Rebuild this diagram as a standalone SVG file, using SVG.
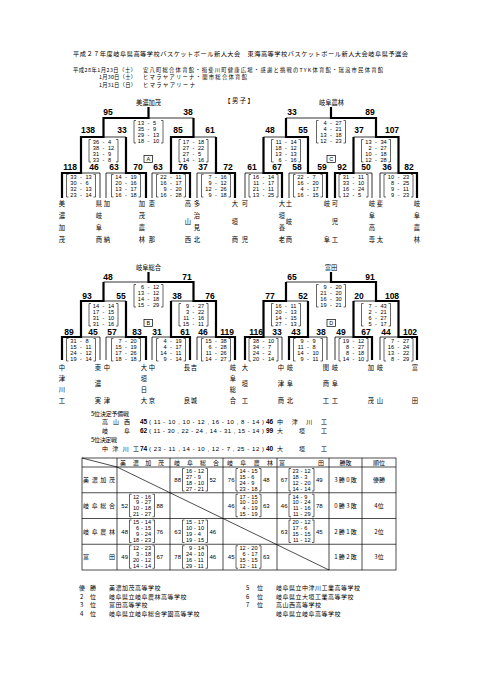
<svg xmlns="http://www.w3.org/2000/svg" width="481" height="680" viewBox="0 0 481 680">
<style>
text{font-family:"Noto Sans CJK JP","Liberation Sans",sans-serif;fill:#000}
.h{font-size:6.2px}
.d{font-size:5.3px}
.nm{font-size:6.3px;text-anchor:middle}
.sc{font-family:"Liberation Sans",Arial,sans-serif;font-weight:bold;font-size:8.5px;text-anchor:middle}
.q{font-family:"Liberation Sans",Arial,sans-serif;font-size:5.6px}
.e{text-anchor:end}
.m{text-anchor:middle}
.thin{fill:none;stroke:#000;stroke-width:0.8}
.thick{fill:none;stroke:#000;stroke-width:2.2}
.lb{fill:#fff;stroke:#000;stroke-width:0.7}
.lt{font-family:"Liberation Sans",Arial,sans-serif;font-size:5.5px;text-anchor:middle}
.tb{font-size:6px}
.tl{fill:none;stroke:#000;stroke-width:0.7}
.rk{font-size:6px;letter-spacing:0.5px}
.b6{font-family:"Liberation Sans",Arial,sans-serif;font-weight:bold;font-size:6.5px}
.p6{font-family:"Liberation Sans",Arial,sans-serif;font-size:6px}
.ts{font-family:"Liberation Sans",Arial,sans-serif;font-size:6px}
</style>
<defs>
<path id="gbr" fill="none" stroke="#000" stroke-width="0.6" d="M-12.5,0h-2v22.5h2M12.5,0h2v22.5h-2"/>
<path id="tbr" fill="none" stroke="#000" stroke-width="0.6" d="M-10.5,0h-2v22.5h2M10.5,0h2v22.5h-2"/>
</defs>
<rect width="481" height="680" fill="#fff"/>

<g id="header">
<text class="h" x="73" y="55.5" textLength="335">平成２７年度岐阜県高等学校バスケットボール新人大会　東海高等学校バスケットボール新人大会岐阜県予選会</text>
<text class="d" x="73" y="72" textLength="63">平成28年1月23日（土）</text>
<text class="d" x="143" y="72" textLength="240">安八町総合体育館・揖斐川町健康広場・感謝と挑戦のTYK体育館・瑞浪市民体育館</text>
<text class="d" x="99" y="79.3" textLength="37">1月30日（土）</text>
<text class="d" x="143" y="79.3" textLength="104">ヒマラヤアリーナ・関市総合体育館</text>
<text class="d" x="99" y="86.6" textLength="37">1月31日（日）</text>
<text class="d" x="143" y="86.6" textLength="52">ヒマラヤアリーナ</text>
<text class="nm" x="239" y="102.5">【 男 子 】</text>
</g>

<g id="connectors">
<path class="thin" d="M62,198V173H100V198M106,198V173H146V198M152,198V173H190V198M197,198V173H235V198M81,173V137H126V173M171,173V137H216V173M103.5,137V118H193.5V137M148.5,118V107"/>
<path class="thick" d="M62,198V173H81V137H103.5V118H148.5V107M146,198V173H126V137M190,198V173H171V137H193.5V118M235,198V173H216V137"/>
<path class="thin" d="M245,198V173H282V198M289,198V173H327V198M335,198V173H372V198M380,198V173H417V198M263.5,173V137H308V173M353.5,173V137H398.5V173M286,137V118H376V137M331,118V107"/>
<path class="thick" d="M282,198V173H263.5V137M327,198V173H308V137H286V118M335,198V173H353.5V137M417,198V173H398.5V137H376V118H331V107"/>
<path class="thin" d="M62,360V337H100V360M106,360V337H146V360M152,360V337H190V360M197,360V337H235V360M81,337V301H126V337M171,337V301H216V337M103.5,301V282H193.5V301M148.5,282V272"/>
<path class="thick" d="M62,360V337H81V301H103.5V282M146,360V337H126V301M190,360V337H171V301M235,360V337H216V301H193.5V282H148.5V272"/>
<path class="thin" d="M245,360V337H282V360M289,360V337H327V360M335,360V337H372V360M380,360V337H417V360M263.5,337V301H308V337M353.5,337V301H398.5V337M286,301V282H376V301M331,282V272"/>
<path class="thick" d="M245,360V337H263.5V301H286V282M289,360V337H308V301M372,360V337H353.5V301M417,360V337H398.5V301H376V282H331V272"/>
</g>

<g id="bracket-A">
<text class="nm" x="148.5" y="104.5">美濃加茂</text>
<g id="A-scores">
<text class="sc" x="108" y="115">95</text><text class="sc" x="188" y="115">38</text>
<text class="sc" x="88" y="133">138</text><text class="sc" x="122" y="133">33</text><text class="sc" x="178" y="133">85</text><text class="sc" x="210" y="133">61</text>
<text class="sc" x="70" y="170">118</text><text class="sc" x="94" y="170">46</text><text class="sc" x="114" y="170">63</text><text class="sc" x="138" y="170">70</text><text class="sc" x="158" y="170">63</text><text class="sc" x="183" y="170">76</text><text class="sc" x="203" y="170">37</text><text class="sc" x="228" y="170">72</text>
</g>
<g id="A-label"><rect class="lb" x="144" y="155.5" width="8.5" height="7"/><text class="lt" x="148.25" y="161.3">A</text></g>
<g id="A-f" transform="translate(148.5,120.5)"><use href="#gbr"/><text class="q e" x="-4.5" y="4.3">13<tspan x="-4.5" y="10.2">35</tspan><tspan x="-4.5" y="16.1">29</tspan><tspan x="-4.5" y="22">18</tspan></text><text class="q m" x="0 0 0 0" y="4.3 10.2 16.1 22">----</text><text class="q" x="4.5" y="4.3">5<tspan x="4.5" y="10.2">9</tspan><tspan x="4.5" y="16.1">13</tspan><tspan x="4.5" y="22">10</tspan></text></g>
<g id="A-s1" transform="translate(103.5,139.5)"><use href="#gbr"/><text class="q e" x="-4.5" y="4.3">36<tspan x="-4.5" y="10.2">38</tspan><tspan x="-4.5" y="16.1">31</tspan><tspan x="-4.5" y="22">33</tspan></text><text class="q m" x="0 0 0 0" y="4.3 10.2 16.1 22">----</text><text class="q" x="4.5" y="4.3">4<tspan x="4.5" y="10.2">12</tspan><tspan x="4.5" y="16.1">9</tspan><tspan x="4.5" y="22">8</tspan></text></g>
<g id="A-s2" transform="translate(193.5,139.5)"><use href="#gbr"/><text class="q e" x="-4.5" y="4.3">17<tspan x="-4.5" y="10.2">27</tspan><tspan x="-4.5" y="16.1">27</tspan><tspan x="-4.5" y="22">14</tspan></text><text class="q m" x="0 0 0 0" y="4.3 10.2 16.1 22">----</text><text class="q" x="4.5" y="4.3">18<tspan x="4.5" y="10.2">22</tspan><tspan x="4.5" y="16.1">5</tspan><tspan x="4.5" y="22">16</tspan></text></g>
<g id="A-g1" transform="translate(81,174.5)"><use href="#gbr"/><text class="q e" x="-4.5" y="4.3">33<tspan x="-4.5" y="10.2">30</tspan><tspan x="-4.5" y="16.1">32</tspan><tspan x="-4.5" y="22">23</tspan></text><text class="q m" x="0 0 0 0" y="4.3 10.2 16.1 22">----</text><text class="q" x="4.5" y="4.3">13<tspan x="4.5" y="10.2">6</tspan><tspan x="4.5" y="16.1">13</tspan><tspan x="4.5" y="22">14</tspan></text></g>
<g id="A-g2" transform="translate(126,174.5)"><use href="#gbr"/><text class="q e" x="-4.5" y="4.3">14<tspan x="-4.5" y="10.2">20</tspan><tspan x="-4.5" y="16.1">13</tspan><tspan x="-4.5" y="22">16</tspan></text><text class="q m" x="0 0 0 0" y="4.3 10.2 16.1 22">----</text><text class="q" x="4.5" y="4.3">19<tspan x="4.5" y="10.2">16</tspan><tspan x="4.5" y="16.1">17</tspan><tspan x="4.5" y="22">18</tspan></text></g>
<g id="A-g3" transform="translate(171,174.5)"><use href="#gbr"/><text class="q e" x="-4.5" y="4.3">22<tspan x="-4.5" y="10.2">16</tspan><tspan x="-4.5" y="16.1">9</tspan><tspan x="-4.5" y="22">16</tspan></text><text class="q m" x="0 0 0 0" y="4.3 10.2 16.1 22">----</text><text class="q" x="4.5" y="4.3">11<tspan x="4.5" y="10.2">17</tspan><tspan x="4.5" y="16.1">20</tspan><tspan x="4.5" y="22">28</tspan></text></g>
<g id="A-g4" transform="translate(216,174.5)"><use href="#gbr"/><text class="q e" x="-4.5" y="4.3">7<tspan x="-4.5" y="10.2">9</tspan><tspan x="-4.5" y="16.1">12</tspan><tspan x="-4.5" y="22">9</tspan></text><text class="q m" x="0 0 0 0" y="4.3 10.2 16.1 22">----</text><text class="q" x="4.5" y="4.3">16<tspan x="4.5" y="10.2">12</tspan><tspan x="4.5" y="16.1">26</tspan><tspan x="4.5" y="22">18</tspan></text></g>
<g id="A-teams">
<text class="nm" x="62 62 62 62" y="205.5 217.5 229.5 241.5">美濃加茂</text>
<text class="nm" x="99 99 99 99" y="205.5 217.5 229.5 241.5">県岐阜商</text>
<text class="nm" x="107 107" y="205.5 241.5">加納</text>
<text class="nm" x="142 142 142 142" y="205.5 217.5 229.5 241.5">加茂農林</text>
<text class="nm" x="152 152" y="205.5 241.5">恵那</text>
<text class="nm" x="188 188 188" y="205.5 224 241.5">高山西</text>
<text class="nm" x="197 197 197 197" y="205.5 217.5 229.5 241.5">多治見北</text>
<text class="nm" x="235 235 235" y="205.5 224 241.5">大垣商</text>
</g>
</g>

<g id="bracket-C">
<text class="nm" x="331.5" y="104.5">岐阜農林</text>
<g id="C-scores">
<text class="sc" x="292" y="115">33</text><text class="sc" x="370" y="115">89</text>
<text class="sc" x="270" y="133">48</text><text class="sc" x="303" y="133">55</text><text class="sc" x="359" y="133">37</text><text class="sc" x="392" y="133">107</text>
<text class="sc" x="252" y="170">61</text><text class="sc" x="277" y="170">67</text><text class="sc" x="297" y="170">58</text><text class="sc" x="322" y="170">59</text><text class="sc" x="342" y="170">92</text><text class="sc" x="366" y="170">50</text><text class="sc" x="387" y="170">36</text><text class="sc" x="409" y="170">82</text>
</g>
<g id="C-label"><rect class="lb" x="327" y="155.5" width="8.5" height="7"/><text class="lt" x="331.25" y="161.3">C</text></g>
<g id="C-f" transform="translate(331,120.5)"><use href="#gbr"/><text class="q e" x="-4.5" y="4.3">4<tspan x="-4.5" y="10.2">4</tspan><tspan x="-4.5" y="16.1">13</tspan><tspan x="-4.5" y="22">12</tspan></text><text class="q m" x="0 0 0 0" y="4.3 10.2 16.1 22">----</text><text class="q" x="4.5" y="4.3">27<tspan x="4.5" y="10.2">21</tspan><tspan x="4.5" y="16.1">18</tspan><tspan x="4.5" y="22">23</tspan></text></g>
<g id="C-s1" transform="translate(286,139.5)"><use href="#gbr"/><text class="q e" x="-4.5" y="4.3">11<tspan x="-4.5" y="10.2">18</tspan><tspan x="-4.5" y="16.1">13</tspan><tspan x="-4.5" y="22">6</tspan></text><text class="q m" x="0 0 0 0" y="4.3 10.2 16.1 22">----</text><text class="q" x="4.5" y="4.3">14<tspan x="4.5" y="10.2">12</tspan><tspan x="4.5" y="16.1">13</tspan><tspan x="4.5" y="22">16</tspan></text></g>
<g id="C-s2" transform="translate(376,139.5)"><use href="#gbr"/><text class="q e" x="-4.5" y="4.3">13<tspan x="-4.5" y="10.2">2</tspan><tspan x="-4.5" y="16.1">10</tspan><tspan x="-4.5" y="22">12</tspan></text><text class="q m" x="0 0 0 0" y="4.3 10.2 16.1 22">----</text><text class="q" x="4.5" y="4.3">34<tspan x="4.5" y="10.2">27</tspan><tspan x="4.5" y="16.1">18</tspan><tspan x="4.5" y="22">28</tspan></text></g>
<g id="C-g1" transform="translate(263.5,174.5)"><use href="#gbr"/><text class="q e" x="-4.5" y="4.3">16<tspan x="-4.5" y="10.2">11</tspan><tspan x="-4.5" y="16.1">21</tspan><tspan x="-4.5" y="22">13</tspan></text><text class="q m" x="0 0 0 0" y="4.3 10.2 16.1 22">----</text><text class="q" x="4.5" y="4.3">14<tspan x="4.5" y="10.2">17</tspan><tspan x="4.5" y="16.1">11</tspan><tspan x="4.5" y="22">25</tspan></text></g>
<g id="C-g2" transform="translate(308,174.5)"><use href="#gbr"/><text class="q e" x="-4.5" y="4.3">22<tspan x="-4.5" y="10.2">16</tspan><tspan x="-4.5" y="16.1">4</tspan><tspan x="-4.5" y="22">16</tspan></text><text class="q m" x="0 0 0 0" y="4.3 10.2 16.1 22">----</text><text class="q" x="4.5" y="4.3">7<tspan x="4.5" y="10.2">20</tspan><tspan x="4.5" y="16.1">17</tspan><tspan x="4.5" y="22">15</tspan></text></g>
<g id="C-g3" transform="translate(353.5,174.5)"><use href="#gbr"/><text class="q e" x="-4.5" y="4.3">31<tspan x="-4.5" y="10.2">33</tspan><tspan x="-4.5" y="16.1">16</tspan><tspan x="-4.5" y="22">12</tspan></text><text class="q m" x="0 0 0 0" y="4.3 10.2 16.1 22">----</text><text class="q" x="4.5" y="4.3">11<tspan x="4.5" y="10.2">10</tspan><tspan x="4.5" y="16.1">24</tspan><tspan x="4.5" y="22">5</tspan></text></g>
<g id="C-g4" transform="translate(398.5,174.5)"><use href="#gbr"/><text class="q e" x="-4.5" y="4.3">10<tspan x="-4.5" y="10.2">8</tspan><tspan x="-4.5" y="16.1">9</tspan><tspan x="-4.5" y="22">9</tspan></text><text class="q m" x="0 0 0 0" y="4.3 10.2 16.1 22">----</text><text class="q" x="4.5" y="4.3">23<tspan x="4.5" y="10.2">25</tspan><tspan x="4.5" y="16.1">11</tspan><tspan x="4.5" y="22">23</tspan></text></g>
<g id="C-teams">
<text class="nm" x="245 245" y="205.5 241.5">可児</text>
<text class="nm" x="282 282 282 282" y="205.5 217.5 229.5 241.5">大垣養老</text>
<text class="nm" x="289 289 289" y="205.5 224 241.5">土岐商</text>
<text class="nm" x="327 327" y="205.5 241.5">岐阜</text>
<text class="nm" x="335 335 335" y="205.5 224 241.5">可児工</text>
<text class="nm" x="372 372 372 372" y="205.5 217.5 229.5 241.5">岐阜高専</text>
<text class="nm" x="380 380" y="205.5 241.5">斐太</text>
<text class="nm" x="417 417 417 417" y="205.5 217.5 229.5 241.5">岐阜農林</text>
</g>
</g>

<g id="bracket-B">
<text class="nm" x="148.5" y="269.5">岐阜総合</text>
<g id="B-scores">
<text class="sc" x="108" y="279.5">48</text><text class="sc" x="187" y="279.5">71</text>
<text class="sc" x="87" y="298.5">93</text><text class="sc" x="121" y="298.5">55</text><text class="sc" x="177" y="298.5">38</text><text class="sc" x="210" y="298.5">76</text>
<text class="sc" x="69" y="334.5">89</text><text class="sc" x="93" y="334.5">45</text><text class="sc" x="112" y="334.5">57</text><text class="sc" x="137" y="334.5">83</text><text class="sc" x="157" y="334.5">31</text><text class="sc" x="185" y="334.5">61</text><text class="sc" x="203" y="334.5">46</text><text class="sc" x="227" y="334.5">119</text>
</g>
<g id="B-label"><rect class="lb" x="144" y="319.5" width="8.5" height="7"/><text class="lt" x="148.25" y="325.3">B</text></g>
<g id="B-f" transform="translate(148.5,284.5)"><use href="#gbr"/><text class="q e" x="-4.5" y="4.3">6<tspan x="-4.5" y="10.2">13</tspan><tspan x="-4.5" y="16.1">14</tspan><tspan x="-4.5" y="22">15</tspan></text><text class="q m" x="0 0 0 0" y="4.3 10.2 16.1 22">----</text><text class="q" x="4.5" y="4.3">12<tspan x="4.5" y="10.2">12</tspan><tspan x="4.5" y="16.1">18</tspan><tspan x="4.5" y="22">29</tspan></text></g>
<g id="B-s1" transform="translate(103.5,303.5)"><use href="#gbr"/><text class="q e" x="-4.5" y="4.3">14<tspan x="-4.5" y="10.2">17</tspan><tspan x="-4.5" y="16.1">31</tspan><tspan x="-4.5" y="22">31</tspan></text><text class="q m" x="0 0 0 0" y="4.3 10.2 16.1 22">----</text><text class="q" x="4.5" y="4.3">14<tspan x="4.5" y="10.2">15</tspan><tspan x="4.5" y="16.1">10</tspan><tspan x="4.5" y="22">16</tspan></text></g>
<g id="B-s2" transform="translate(193.5,303.5)"><use href="#gbr"/><text class="q e" x="-4.5" y="4.3">9<tspan x="-4.5" y="10.2">3</tspan><tspan x="-4.5" y="16.1">11</tspan><tspan x="-4.5" y="22">15</tspan></text><text class="q m" x="0 0 0 0" y="4.3 10.2 16.1 22">----</text><text class="q" x="4.5" y="4.3">27<tspan x="4.5" y="10.2">22</tspan><tspan x="4.5" y="16.1">16</tspan><tspan x="4.5" y="22">11</tspan></text></g>
<g id="B-g1" transform="translate(81,338.5)"><use href="#gbr"/><text class="q e" x="-4.5" y="4.3">31<tspan x="-4.5" y="10.2">15</tspan><tspan x="-4.5" y="16.1">24</tspan><tspan x="-4.5" y="22">19</tspan></text><text class="q m" x="0 0 0 0" y="4.3 10.2 16.1 22">----</text><text class="q" x="4.5" y="4.3">8<tspan x="4.5" y="10.2">11</tspan><tspan x="4.5" y="16.1">12</tspan><tspan x="4.5" y="22">14</tspan></text></g>
<g id="B-g2" transform="translate(126,338.5)"><use href="#gbr"/><text class="q e" x="-4.5" y="4.3">7<tspan x="-4.5" y="10.2">15</tspan><tspan x="-4.5" y="16.1">17</tspan><tspan x="-4.5" y="22">18</tspan></text><text class="q m" x="0 0 0 0" y="4.3 10.2 16.1 22">----</text><text class="q" x="4.5" y="4.3">20<tspan x="4.5" y="10.2">19</tspan><tspan x="4.5" y="16.1">26</tspan><tspan x="4.5" y="22">18</tspan></text></g>
<g id="B-g3" transform="translate(171,338.5)"><use href="#gbr"/><text class="q e" x="-4.5" y="4.3">4<tspan x="-4.5" y="10.2">4</tspan><tspan x="-4.5" y="16.1">14</tspan><tspan x="-4.5" y="22">9</tspan></text><text class="q m" x="0 0 0 0" y="4.3 10.2 16.1 22">----</text><text class="q" x="4.5" y="4.3">19<tspan x="4.5" y="10.2">17</tspan><tspan x="4.5" y="16.1">11</tspan><tspan x="4.5" y="22">14</tspan></text></g>
<g id="B-g4" transform="translate(216,338.5)"><use href="#gbr"/><text class="q e" x="-4.5" y="4.3">15<tspan x="-4.5" y="10.2">6</tspan><tspan x="-4.5" y="16.1">11</tspan><tspan x="-4.5" y="22">14</tspan></text><text class="q m" x="0 0 0 0" y="4.3 10.2 16.1 22">----</text><text class="q" x="4.5" y="4.3">38<tspan x="4.5" y="10.2">28</tspan><tspan x="4.5" y="16.1">26</tspan><tspan x="4.5" y="22">27</tspan></text></g>
<g id="B-teams">
<text class="nm" x="62 62 62 62" y="369.5 380.5 391.5 402.5">中津川工</text>
<text class="nm" x="98 98 98" y="369.5 386 402.5">東濃実</text>
<text class="nm" x="107 107" y="369.5 402.5">中津</text>
<text class="nm" x="144 144 144 144" y="369.5 380.5 391.5 402.5">大垣日大</text>
<text class="nm" x="152 152" y="369.5 402.5">中京</text>
<text class="nm" x="187 187" y="369.5 402.5">長良</text>
<text class="nm" x="194 194" y="369.5 402.5">吉城</text>
<text class="nm" x="233 233 233 233" y="369.5 380.5 391.5 402.5">岐阜総合</text>
</g>
</g>

<g id="bracket-D">
<text class="nm" x="331" y="269.5">富田</text>
<g id="D-scores">
<text class="sc" x="292" y="279.5">65</text><text class="sc" x="370" y="279.5">91</text>
<text class="sc" x="270" y="298.5">77</text><text class="sc" x="303" y="298.5">52</text><text class="sc" x="359" y="298.5">20</text><text class="sc" x="392" y="298.5">108</text>
<text class="sc" x="256" y="334.5">116</text><text class="sc" x="277" y="334.5">33</text><text class="sc" x="296" y="334.5">43</text><text class="sc" x="321" y="334.5">38</text><text class="sc" x="341" y="334.5">49</text><text class="sc" x="366" y="334.5">67</text><text class="sc" x="386" y="334.5">44</text><text class="sc" x="410" y="334.5">102</text>
</g>
<g id="D-label"><rect class="lb" x="327" y="319.5" width="8.5" height="7"/><text class="lt" x="331.25" y="325.3">D</text></g>
<g id="D-f" transform="translate(331,284.5)"><use href="#gbr"/><text class="q e" x="-4.5" y="4.3">9<tspan x="-4.5" y="10.2">21</tspan><tspan x="-4.5" y="16.1">16</tspan><tspan x="-4.5" y="22">19</tspan></text><text class="q m" x="0 0 0 0" y="4.3 10.2 16.1 22">----</text><text class="q" x="4.5" y="4.3">20<tspan x="4.5" y="10.2">20</tspan><tspan x="4.5" y="16.1">30</tspan><tspan x="4.5" y="22">21</tspan></text></g>
<g id="D-s1" transform="translate(286,303.5)"><use href="#gbr"/><text class="q e" x="-4.5" y="4.3">16<tspan x="-4.5" y="10.2">20</tspan><tspan x="-4.5" y="16.1">14</tspan><tspan x="-4.5" y="22">27</tspan></text><text class="q m" x="0 0 0 0" y="4.3 10.2 16.1 22">----</text><text class="q" x="4.5" y="4.3">11<tspan x="4.5" y="10.2">13</tspan><tspan x="4.5" y="16.1">15</tspan><tspan x="4.5" y="22">13</tspan></text></g>
<g id="D-s2" transform="translate(376,303.5)"><use href="#gbr"/><text class="q e" x="-4.5" y="4.3">7<tspan x="-4.5" y="10.2">2</tspan><tspan x="-4.5" y="16.1">6</tspan><tspan x="-4.5" y="22">5</tspan></text><text class="q m" x="0 0 0 0" y="4.3 10.2 16.1 22">----</text><text class="q" x="4.5" y="4.3">43<tspan x="4.5" y="10.2">21</tspan><tspan x="4.5" y="16.1">27</tspan><tspan x="4.5" y="22">17</tspan></text></g>
<g id="D-g1" transform="translate(263.5,338.5)"><use href="#gbr"/><text class="q e" x="-4.5" y="4.3">38<tspan x="-4.5" y="10.2">34</tspan><tspan x="-4.5" y="16.1">24</tspan><tspan x="-4.5" y="22">20</tspan></text><text class="q m" x="0 0 0 0" y="4.3 10.2 16.1 22">----</text><text class="q" x="4.5" y="4.3">10<tspan x="4.5" y="10.2">7</tspan><tspan x="4.5" y="16.1">2</tspan><tspan x="4.5" y="22">14</tspan></text></g>
<g id="D-g2" transform="translate(308,338.5)"><use href="#gbr"/><text class="q e" x="-4.5" y="4.3">9<tspan x="-4.5" y="10.2">11</tspan><tspan x="-4.5" y="16.1">14</tspan><tspan x="-4.5" y="22">9</tspan></text><text class="q m" x="0 0 0 0" y="4.3 10.2 16.1 22">----</text><text class="q" x="4.5" y="4.3">9<tspan x="4.5" y="10.2">8</tspan><tspan x="4.5" y="16.1">10</tspan><tspan x="4.5" y="22">11</tspan></text></g>
<g id="D-g3" transform="translate(353.5,338.5)"><use href="#gbr"/><text class="q e" x="-4.5" y="4.3">19<tspan x="-4.5" y="10.2">8</tspan><tspan x="-4.5" y="16.1">8</tspan><tspan x="-4.5" y="22">14</tspan></text><text class="q m" x="0 0 0 0" y="4.3 10.2 16.1 22">----</text><text class="q" x="4.5" y="4.3">12<tspan x="4.5" y="10.2">27</tspan><tspan x="4.5" y="16.1">18</tspan><tspan x="4.5" y="22">10</tspan></text></g>
<g id="D-g4" transform="translate(398.5,338.5)"><use href="#gbr"/><text class="q e" x="-4.5" y="4.3">7<tspan x="-4.5" y="10.2">16</tspan><tspan x="-4.5" y="16.1">13</tspan><tspan x="-4.5" y="22">8</tspan></text><text class="q m" x="0 0 0 0" y="4.3 10.2 16.1 22">----</text><text class="q" x="4.5" y="4.3">27<tspan x="4.5" y="10.2">24</tspan><tspan x="4.5" y="16.1">22</tspan><tspan x="4.5" y="22">29</tspan></text></g>
<g id="D-teams">
<text class="nm" x="245 245 245" y="369.5 386 402.5">大垣工</text>
<text class="nm" x="281 281 281" y="369.5 386 402.5">中津商</text>
<text class="nm" x="290 290 290" y="369.5 386 402.5">岐阜北</text>
<text class="nm" x="326 326 326" y="369.5 386 402.5">関商工</text>
<text class="nm" x="335 335 335" y="369.5 386 402.5">岐阜工</text>
<text class="nm" x="371 371" y="369.5 402.5">加茂</text>
<text class="nm" x="380 380" y="369.5 402.5">岐山</text>
<text class="nm" x="415 415" y="369.5 402.5">富田</text>
</g>
</g>

<g id="fifth-place">
<text class="tb" x="91" y="415.5" textLength="38">5位決定予備戦</text>
<text class="tb" x="102" y="424" textLength="28">高　山　西</text>
<text class="b6" x="140" y="424">45</text>
<text class="p6" x="149" y="424" textLength="115">( 11 - 10 , 10 - 12 , 16 - 10 , 8 - 14 )</text>
<text class="b6" x="266" y="424">46</text>
<text class="tb" x="277" y="424" textLength="50">中津川工</text>
<text class="tb" x="102" y="433" textLength="28">岐　　阜</text>
<text class="b6" x="140" y="433">62</text>
<text class="p6" x="149" y="433" textLength="115">( 11 - 30 , 22 - 24 , 14 - 31 , 15 - 14 )</text>
<text class="b6" x="266" y="433">99</text>
<text class="tb" x="277" y="433" textLength="50">大垣工</text>
<text class="tb" x="91" y="442" textLength="26">5位決定戦</text>
<text class="tb" x="102" y="450.5" textLength="37">中津川工</text>
<text class="b6" x="140" y="450.5">74</text>
<text class="p6" x="149" y="450.5" textLength="115">( 23 - 11 , 14 - 10 , 12 - 7 , 25 - 12 )</text>
<text class="b6" x="266" y="450.5">40</text>
<text class="tb" x="277" y="450.5" textLength="50">大垣工</text>
</g>

<g id="league-table">
<rect class="tl" x="82" y="458" width="314" height="112"/>
<path class="tl" d="M82,467H396M82,492.75H396M82,518.5H396M82,544.25H396M117,458V570M170,458V570M223,458V570M277,458V570M329,458V570M362,458V570M82,458L117,467M117,467L329,570"/>
<g id="table-head">
<text class="tb" x="120" y="465" textLength="44">美濃加茂</text>
<text class="tb" x="174" y="465" textLength="45">岐阜総合</text>
<text class="tb" x="227" y="465" textLength="46">岐阜農林</text>
<text class="tb" x="279" y="465" textLength="45">富　　　田</text>
<text class="tb m" x="345.5" y="465">勝敗</text>
<text class="tb m" x="379" y="465">順位</text>
</g>
<g id="table-rows">
<text class="tb" x="83" y="482" textLength="32">美濃加茂</text>
<text class="tb" x="83" y="508" textLength="32">岐阜総合</text>
<text class="tb" x="83" y="533.5" textLength="32">岐阜農林</text>
<text class="tb" x="83" y="559.3" textLength="32">富　　　田</text>
<text class="tb m" x="345.5" y="482">3 勝 0 敗</text>
<text class="tb m" x="345.5" y="508">0 勝 3 敗</text>
<text class="tb m" x="345.5" y="533.5">2 勝 1 敗</text>
<text class="tb m" x="345.5" y="559.3">1 勝 2 敗</text>
<text class="tb m" x="379" y="482">優勝</text>
<text class="tb m" x="379" y="508">4位</text>
<text class="tb m" x="379" y="533.5">2位</text>
<text class="tb m" x="379" y="559.3">3位</text>
</g>
<g id="cell-1-2" transform="translate(195,468.5)"><use href="#tbr"/><text class="ts e" x="-14" y="13.5">88</text><text class="ts" x="14.5" y="13.5">52</text><text class="q e" x="-2.8" y="4.3">16<tspan x="-2.8" y="10.2">27</tspan><tspan x="-2.8" y="16.1">18</tspan><tspan x="-2.8" y="22">27</tspan></text><text class="q m" x="0 0 0 0" y="4.3 10.2 16.1 22">----</text><text class="q" x="2.8" y="4.3">12<tspan x="2.8" y="10.2">9</tspan><tspan x="2.8" y="16.1">10</tspan><tspan x="2.8" y="22">21</tspan></text></g>
<g id="cell-1-3" transform="translate(248.5,468.5)"><use href="#tbr"/><text class="ts e" x="-14" y="13.5">76</text><text class="ts" x="14.5" y="13.5">48</text><text class="q e" x="-2.8" y="4.3">14<tspan x="-2.8" y="10.2">15</tspan><tspan x="-2.8" y="16.1">24</tspan><tspan x="-2.8" y="22">23</tspan></text><text class="q m" x="0 0 0 0" y="4.3 10.2 16.1 22">----</text><text class="q" x="2.8" y="4.3">15<tspan x="2.8" y="10.2">6</tspan><tspan x="2.8" y="16.1">9</tspan><tspan x="2.8" y="22">18</tspan></text></g>
<g id="cell-1-4" transform="translate(301.5,468.5)"><use href="#tbr"/><text class="ts e" x="-14" y="13.5">67</text><text class="ts" x="14.5" y="13.5">49</text><text class="q e" x="-2.8" y="4.3">23<tspan x="-2.8" y="10.2">18</tspan><tspan x="-2.8" y="16.1">12</tspan><tspan x="-2.8" y="22">14</tspan></text><text class="q m" x="0 0 0 0" y="4.3 10.2 16.1 22">----</text><text class="q" x="2.8" y="4.3">12<tspan x="2.8" y="10.2">3</tspan><tspan x="2.8" y="16.1">20</tspan><tspan x="2.8" y="22">14</tspan></text></g>
<g id="cell-2-1" transform="translate(142,494.25)"><use href="#tbr"/><text class="ts e" x="-14" y="13.5">52</text><text class="ts" x="14.5" y="13.5">88</text><text class="q e" x="-2.8" y="4.3">12<tspan x="-2.8" y="10.2">9</tspan><tspan x="-2.8" y="16.1">10</tspan><tspan x="-2.8" y="22">21</tspan></text><text class="q m" x="0 0 0 0" y="4.3 10.2 16.1 22">----</text><text class="q" x="2.8" y="4.3">16<tspan x="2.8" y="10.2">27</tspan><tspan x="2.8" y="16.1">18</tspan><tspan x="2.8" y="22">27</tspan></text></g>
<g id="cell-2-3" transform="translate(248.5,494.25)"><use href="#tbr"/><text class="ts e" x="-14" y="13.5">46</text><text class="ts" x="14.5" y="13.5">63</text><text class="q e" x="-2.8" y="4.3">17<tspan x="-2.8" y="10.2">10</tspan><tspan x="-2.8" y="16.1">4</tspan><tspan x="-2.8" y="22">15</tspan></text><text class="q m" x="0 0 0 0" y="4.3 10.2 16.1 22">----</text><text class="q" x="2.8" y="4.3">15<tspan x="2.8" y="10.2">10</tspan><tspan x="2.8" y="16.1">19</tspan><tspan x="2.8" y="22">19</tspan></text></g>
<g id="cell-2-4" transform="translate(301.5,494.25)"><use href="#tbr"/><text class="ts e" x="-14" y="13.5">46</text><text class="ts" x="14.5" y="13.5">78</text><text class="q e" x="-2.8" y="4.3">14<tspan x="-2.8" y="10.2">10</tspan><tspan x="-2.8" y="16.1">11</tspan><tspan x="-2.8" y="22">11</tspan></text><text class="q m" x="0 0 0 0" y="4.3 10.2 16.1 22">----</text><text class="q" x="2.8" y="4.3">9<tspan x="2.8" y="10.2">24</tspan><tspan x="2.8" y="16.1">16</tspan><tspan x="2.8" y="22">29</tspan></text></g>
<g id="cell-3-1" transform="translate(142,520)"><use href="#tbr"/><text class="ts e" x="-14" y="13.5">48</text><text class="ts" x="14.5" y="13.5">76</text><text class="q e" x="-2.8" y="4.3">15<tspan x="-2.8" y="10.2">6</tspan><tspan x="-2.8" y="16.1">9</tspan><tspan x="-2.8" y="22">18</tspan></text><text class="q m" x="0 0 0 0" y="4.3 10.2 16.1 22">----</text><text class="q" x="2.8" y="4.3">14<tspan x="2.8" y="10.2">15</tspan><tspan x="2.8" y="16.1">24</tspan><tspan x="2.8" y="22">23</tspan></text></g>
<g id="cell-3-2" transform="translate(195,520)"><use href="#tbr"/><text class="ts e" x="-14" y="13.5">63</text><text class="ts" x="14.5" y="13.5">46</text><text class="q e" x="-2.8" y="4.3">15<tspan x="-2.8" y="10.2">10</tspan><tspan x="-2.8" y="16.1">19</tspan><tspan x="-2.8" y="22">19</tspan></text><text class="q m" x="0 0 0 0" y="4.3 10.2 16.1 22">----</text><text class="q" x="2.8" y="4.3">17<tspan x="2.8" y="10.2">10</tspan><tspan x="2.8" y="16.1">4</tspan><tspan x="2.8" y="22">15</tspan></text></g>
<g id="cell-3-4" transform="translate(301.5,520)"><use href="#tbr"/><text class="ts e" x="-14" y="13.5">63</text><text class="ts" x="14.5" y="13.5">45</text><text class="q e" x="-2.8" y="4.3">20<tspan x="-2.8" y="10.2">17</tspan><tspan x="-2.8" y="16.1">15</tspan><tspan x="-2.8" y="22">11</tspan></text><text class="q m" x="0 0 0 0" y="4.3 10.2 16.1 22">----</text><text class="q" x="2.8" y="4.3">12<tspan x="2.8" y="10.2">6</tspan><tspan x="2.8" y="16.1">15</tspan><tspan x="2.8" y="22">12</tspan></text></g>
<g id="cell-4-1" transform="translate(142,545.75)"><use href="#tbr"/><text class="ts e" x="-14" y="13.5">49</text><text class="ts" x="14.5" y="13.5">67</text><text class="q e" x="-2.8" y="4.3">12<tspan x="-2.8" y="10.2">3</tspan><tspan x="-2.8" y="16.1">20</tspan><tspan x="-2.8" y="22">14</tspan></text><text class="q m" x="0 0 0 0" y="4.3 10.2 16.1 22">----</text><text class="q" x="2.8" y="4.3">23<tspan x="2.8" y="10.2">18</tspan><tspan x="2.8" y="16.1">12</tspan><tspan x="2.8" y="22">14</tspan></text></g>
<g id="cell-4-2" transform="translate(195,545.75)"><use href="#tbr"/><text class="ts e" x="-14" y="13.5">78</text><text class="ts" x="14.5" y="13.5">46</text><text class="q e" x="-2.8" y="4.3">9<tspan x="-2.8" y="10.2">24</tspan><tspan x="-2.8" y="16.1">16</tspan><tspan x="-2.8" y="22">29</tspan></text><text class="q m" x="0 0 0 0" y="4.3 10.2 16.1 22">----</text><text class="q" x="2.8" y="4.3">14<tspan x="2.8" y="10.2">10</tspan><tspan x="2.8" y="16.1">11</tspan><tspan x="2.8" y="22">11</tspan></text></g>
<g id="cell-4-3" transform="translate(248.5,545.75)"><use href="#tbr"/><text class="ts e" x="-14" y="13.5">45</text><text class="ts" x="14.5" y="13.5">63</text><text class="q e" x="-2.8" y="4.3">12<tspan x="-2.8" y="10.2">6</tspan><tspan x="-2.8" y="16.1">15</tspan><tspan x="-2.8" y="22">12</tspan></text><text class="q m" x="0 0 0 0" y="4.3 10.2 16.1 22">----</text><text class="q" x="2.8" y="4.3">20<tspan x="2.8" y="10.2">17</tspan><tspan x="2.8" y="16.1">15</tspan><tspan x="2.8" y="22">11</tspan></text></g>
</g>

<g id="ranking">
<text class="rk" x="79" y="590">優</text><text class="rk" x="90" y="590">勝</text><text class="rk" x="109" y="590">美濃加茂高等学校</text>
<text class="rk m" x="82" y="598.5">2</text><text class="rk" x="90" y="598.5">位</text><text class="rk" x="109" y="598.5">岐阜県立岐阜農林高等学校</text>
<text class="rk m" x="82" y="607">3</text><text class="rk" x="90" y="607">位</text><text class="rk" x="109" y="607">富田高等学校</text>
<text class="rk m" x="82" y="615.5">4</text><text class="rk" x="90" y="615.5">位</text><text class="rk" x="109" y="615.5">岐阜県立岐阜総合学園高等学校</text>
<text class="rk m" x="248" y="590">5</text><text class="rk" x="257" y="590">位</text><text class="rk" x="276" y="590">岐阜県立中津川工業高等学校</text>
<text class="rk m" x="248" y="598.5">6</text><text class="rk" x="257" y="598.5">位</text><text class="rk" x="276" y="598.5">岐阜県立大垣工業高等学校</text>
<text class="rk m" x="248" y="607">7</text><text class="rk" x="257" y="607">位</text><text class="rk" x="276" y="607">高山西高等学校</text>
<text class="rk" x="276" y="615.5">岐阜県立岐阜高等学校</text>
</g>
</svg>
